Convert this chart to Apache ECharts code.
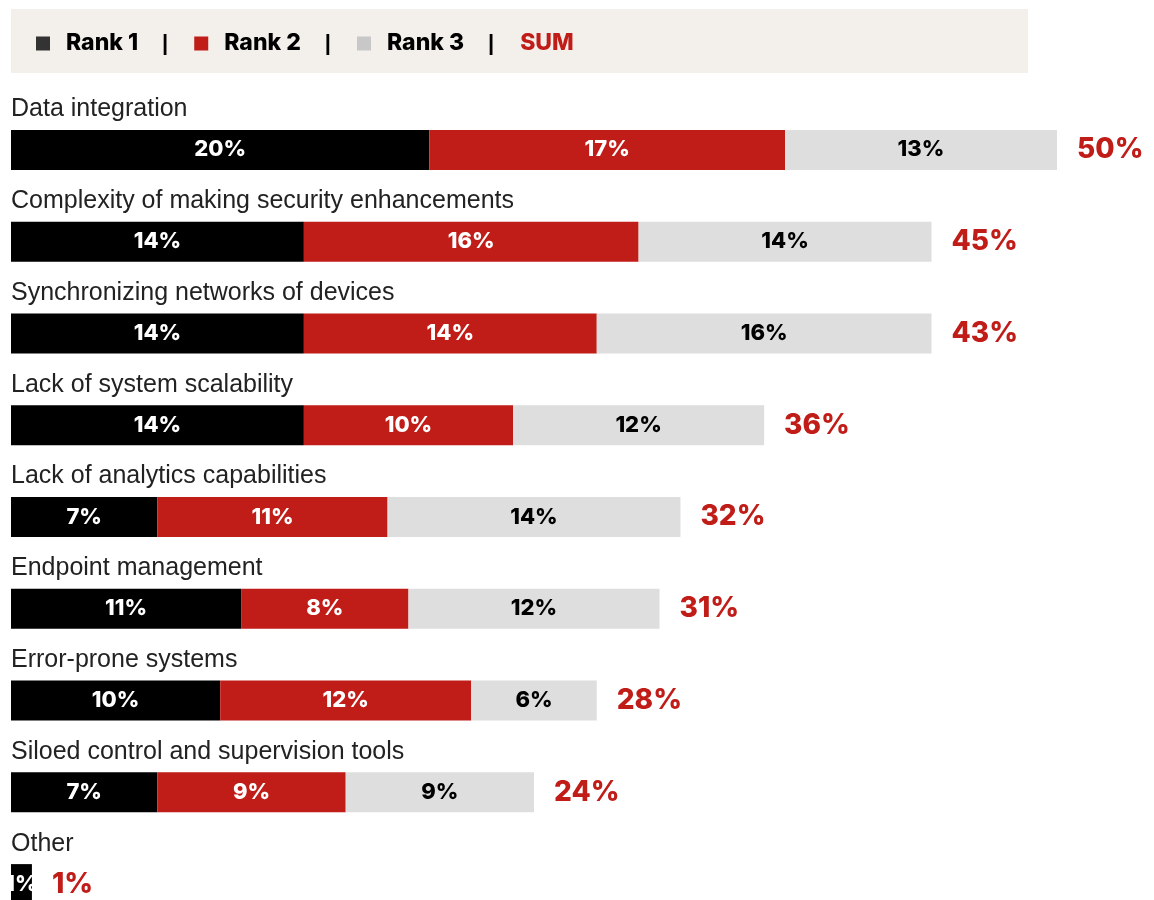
<!DOCTYPE html>
<html>
<head>
<meta charset="utf-8">
<script src="https://cdn.jsdelivr.net/npm/echarts@6/dist/echarts.min.js"></script>
<style>html,body{margin:0;padding:0;background:#fff;height:900px;overflow:hidden;}#c{width:1154px;height:932px;}</style>
</head>
<body>
<div id="c"></div>
<script>
const categories = ['Data integration','Complexity of making security enhancements','Synchronizing networks of devices','Lack of system scalability','Lack of analytics capabilities','Endpoint management','Error-prone systems','Siloed control and supervision tools','Other'];
const rank1 = [20,14,14,14,7,11,10,7,1];
const rank2 = [17,16,14,10,11,8,12,9,0];
const rank3 = [13,14,16,12,14,12,6,9,0];
const sums = [50,45,43,36,32,31,28,24,1];
const seriesNames = ['Rank 1','Rank 2','Rank 3','SUM'];

const RED = '#c01d19';
const HEAVY = 'Inter, Liberation Sans, Arial, sans-serif';
const chart = echarts.init(document.getElementById('c'), null, {renderer:'canvas'});
const barFont = {fontFamily:HEAVY, fontWeight:800, fontSize:22};
function pct(p){ return p.value ? p.value + '%' : ''; }

chart.setOption({
  animation:false,
  backgroundColor:'#fff',
  graphic:[{type:'rect', left:11, top:9, shape:{width:1017, height:64}, style:{fill:'#f3efeb'}, z:-1}],
  legend:{
    left:36, top:32, padding:0, selectedMode:false, itemWidth:14, itemHeight:14, itemGap:26,
    data:[
      {name:seriesNames[0], icon:'rect', itemStyle:{color:'#333'}},
      {name:seriesNames[1], icon:'rect', itemStyle:{color:RED}},
      {name:seriesNames[2], icon:'rect', itemStyle:{color:'#c8c8c8'}},
      {name:seriesNames[3], icon:'none'}
    ],
    formatter: n => n === 'SUM' ? '{sum|' + n + '}' : '{t|' + n + '}{s||}',
    textStyle:{
      rich:{
        t:{fontFamily:HEAVY, fontWeight:800, fontSize:23, color:'#000', padding:[0,0,0,11]},
        s:{fontFamily:'Liberation Sans, Arial, sans-serif', fontWeight:'bold', fontSize:22, color:'#000', padding:[0,0,0,24]},
        sum:{fontFamily:HEAVY, fontWeight:800, fontSize:23, color:RED, padding:[0,0,0,-19]}
      }
    }
  },
  grid:{left:11, right:97, top:104, height:826, containLabel:false},
  xAxis:{type:'value', min:0, max:50, show:false},
  yAxis:{
    type:'category', data:categories, inverse:true,
    axisLine:{show:false}, axisTick:{show:false}, splitLine:{show:false},
    axisLabel:{inside:true, margin:0, interval:0, align:'left', verticalAlign:'bottom',
      formatter: v => '{a|' + v + '}',
      rich:{a:{fontFamily:'Liberation Sans, Arial, sans-serif', fontSize:25, color:'#222', padding:[0,0,28,0]}}}
  },
  series:[
    {name:seriesNames[0], type:'bar', stack:'s', data:rank1, barWidth:40, itemStyle:{color:'#000'},
      label:{show:true, position:'inside', formatter:pct, color:'#fff', ...barFont}},
    {name:seriesNames[1], type:'bar', stack:'s', data:rank2, barWidth:40, itemStyle:{color:RED},
      label:{show:true, position:'inside', formatter:pct, color:'#fff', ...barFont}},
    {name:seriesNames[2], type:'bar', stack:'s', data:rank3, barWidth:40, itemStyle:{color:'#dedede'},
      label:{show:true, position:'inside', formatter:pct, color:'#000', ...barFont}},
    {name:seriesNames[3], type:'bar', stack:'s', data:sums.map(()=>0), barWidth:40, itemStyle:{color:RED},
      label:{show:true, position:'right', distance:20, formatter:p => sums[p.dataIndex] + '%', color:RED,
        fontFamily:HEAVY, fontWeight:800, fontSize:28}}
  ]
});
</script>
</body>
</html>
